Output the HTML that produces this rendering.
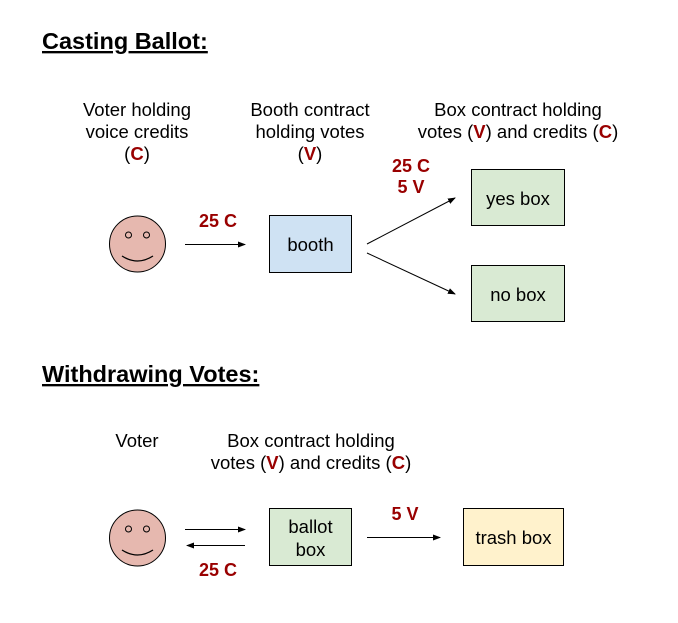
<!DOCTYPE html>
<html><head><style>html,body{margin:0;padding:0;background:#fff}svg{display:block}</style></head><body>
<svg width="678" height="623" viewBox="0 0 678 623" xmlns="http://www.w3.org/2000/svg" font-family="Liberation Sans, Arial, sans-serif">
<defs><marker id="a" markerWidth="8" markerHeight="6" refX="7" refY="3" orient="auto" markerUnits="userSpaceOnUse"><path d="M0,0 L8,3 L0,6 z" fill="#000"/></marker></defs>
<text x="42" y="49" font-size="23.5" font-weight="bold" text-decoration="underline">Casting Ballot:</text>
<text x="42" y="382" font-size="23.5" font-weight="bold" text-decoration="underline">Withdrawing Votes:</text>
<g font-size="18.5" text-anchor="middle" fill="#000">
<text x="137" y="116">Voter holding</text><text x="137" y="138">voice credits</text>
<text x="137" y="160">(<tspan fill="#990000" font-weight="bold">C</tspan>)</text>
<text x="310" y="116">Booth contract</text><text x="310" y="138">holding votes</text>
<text x="310" y="160">(<tspan fill="#990000" font-weight="bold">V</tspan>)</text>
<text x="518" y="116">Box contract holding</text>
<text x="518" y="138">votes (<tspan fill="#990000" font-weight="bold">V</tspan>) and credits (<tspan fill="#990000" font-weight="bold">C</tspan>)</text>
<text x="137" y="447">Voter</text>
<text x="311" y="447">Box contract holding</text>
<text x="311" y="469">votes (<tspan fill="#990000" font-weight="bold">V</tspan>) and credits (<tspan fill="#990000" font-weight="bold">C</tspan>)</text>
</g>
<g font-size="18" font-weight="bold" fill="#990000" text-anchor="middle">
<text x="218" y="227">25 C</text><text x="411" y="172">25 C</text><text x="411" y="193">5 V</text>
<text x="405" y="520">5 V</text><text x="218" y="576">25 C</text>
</g>
<g stroke="#000" stroke-width="1">
<circle cx="137.5" cy="244" r="28" fill="#e6b8af"/>
<circle cx="128.5" cy="235" r="3" fill="none"/><circle cx="146.5" cy="235" r="3" fill="none"/>
<path d="M122,256 Q137.5,266 153,256" fill="none" stroke-width="1.3"/>
<circle cx="137.5" cy="538" r="28" fill="#e6b8af"/>
<circle cx="128.5" cy="529" r="3" fill="none"/><circle cx="146.5" cy="529" r="3" fill="none"/>
<path d="M122,550 Q137.5,560 153,550" fill="none" stroke-width="1.3"/>
<rect x="269.5" y="215.5" width="82" height="57" fill="#cfe2f3"/>
<rect x="471.5" y="169.5" width="93" height="56" fill="#d9ead3"/>
<rect x="471.5" y="265.5" width="93" height="56" fill="#d9ead3"/>
<rect x="269.5" y="508.5" width="82" height="57" fill="#d9ead3"/>
<rect x="463.5" y="508.5" width="100" height="57" fill="#fff2cc"/>
<line x1="185" y1="244.5" x2="245" y2="244.5" marker-end="url(#a)"/>
<line x1="367" y1="244" x2="455" y2="198" marker-end="url(#a)"/>
<line x1="367" y1="253" x2="455" y2="294" marker-end="url(#a)"/>
<line x1="185" y1="529.5" x2="245" y2="529.5" marker-end="url(#a)"/>
<line x1="245" y1="545.5" x2="187" y2="545.5" marker-end="url(#a)"/>
<line x1="367" y1="537.5" x2="440" y2="537.5" marker-end="url(#a)"/>
</g>
<g font-size="18.5" text-anchor="middle">
<text x="310.5" y="251">booth</text>
<text x="518" y="205">yes box</text><text x="518" y="301">no box</text>
<text x="310.5" y="533">ballot</text><text x="310.5" y="556">box</text>
<text x="513.5" y="544">trash box</text>
</g>
</svg>
</body></html>
